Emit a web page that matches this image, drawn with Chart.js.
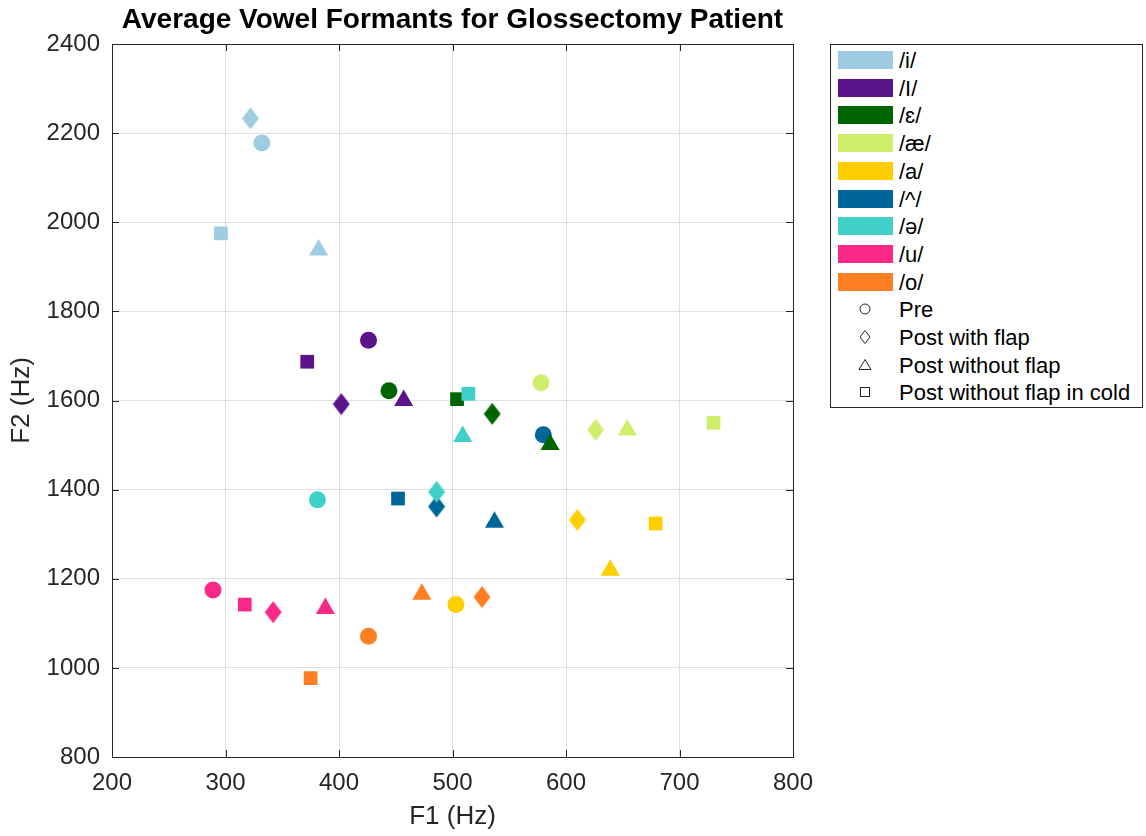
<!DOCTYPE html>
<html>
<head>
<meta charset="utf-8">
<title>Average Vowel Formants for Glossectomy Patient</title>
<script src="https://cdn.jsdelivr.net/npm/chart.js@4/dist/chart.umd.min.js"></script>
<style>
  body { margin: 0; background: #fff; font-family: 'Liberation Sans', Arial, Helvetica, sans-serif; }
  #wrap { position: relative; width: 1146px; height: 836px; }
  #legend { position: absolute; left: 830px; top: 44px; width: 311px; height: 362px;
            border: 1px solid #262626; background: #fff; }
  .row { position: absolute; left: 0; height: 28px; display: flex; align-items: center;
         font-size: 22px; color: #000; white-space: nowrap; }
  .swatch { position: absolute; left: 7px; top: 5px; width: 55px; height: 18px; box-sizing: border-box; }
  .mark { position: absolute; left: 27px; top: 7px; }
  .lbl { position: absolute; left: 68px; top: 2px; }
</style>
</head>
<body>
<div id="wrap">
  <canvas id="myChart" width="1146" height="836"></canvas>
  <div id="legend"></div>
</div>
<script>
var vowels = ['/i/', '/I/', '/ɛ/', '/æ/', '/a/', '/^/', '/ə/', '/u/', '/o/'];
var vowelColors = ['#9ecde1', '#5a1389', '#006400', '#cfee6b', '#ffce00', '#006699', '#41d0c8', '#fa2887', '#ff7f22'];
var conditions = ['Pre', 'Post with flap', 'Post without flap', 'Post without flap in cold'];

// F1 / F2 (Hz) per vowel, in the order of the vowels array
var preF1 = [332, 426, 444, 578, 503, 580, 381, 289, 426];
var preF2 = [2178, 1735, 1622, 1640, 1142, 1523, 1377, 1175, 1071];
var flapF1 = [322, 402, 535, 626, 610, 486, 486, 342, 526];
var flapF2 = [2233, 1592, 1570, 1534, 1332, 1362, 1395, 1125, 1159];
var noFlapF1 = [382, 457, 586, 654, 639, 537, 509, 388, 473];
var noFlapF2 = [1938, 1600, 1501, 1534, 1219, 1327, 1519, 1133, 1165];
var coldF1 = [296, 372, 504, 730, 679, 452, 514, 317, 375];
var coldF2 = [1975, 1687, 1603, 1550, 1324, 1380, 1615, 1142, 977];

var xTicks = [200, 300, 400, 500, 600, 700, 800];
var yTicks = [800, 1000, 1200, 1400, 1600, 1800, 2000, 2200, 2400];

Chart.defaults.font.family = "'Liberation Sans', Arial, Helvetica, sans-serif";
Chart.defaults.color = '#262626';

function toPoints(f1, f2) {
  var pts = [];
  for (var i = 0; i < f1.length; i++) pts.push({x: f1[i], y: f2[i]});
  return pts;
}

// MATLAB style diamond: narrower than tall
function diamond(color) {
  var c = document.createElement('canvas');
  c.width = 18; c.height = 23;
  var g = c.getContext('2d');
  g.fillStyle = color;
  g.beginPath();
  g.moveTo(9, 0.5); g.lineTo(17.5, 11.5); g.lineTo(9, 22.5); g.lineTo(0.5, 11.5);
  g.closePath();
  g.fill();
  return c;
}
var diamonds = vowelColors.map(diamond);

// box around the axes with inward ticks
var frame = {
  id: 'frame',
  afterDraw: function(chart) {
    var ctx = chart.ctx, a = chart.chartArea, x = chart.scales.x, y = chart.scales.y;
    ctx.save();
    ctx.strokeStyle = '#262626';
    ctx.lineWidth = 1;
    ctx.beginPath();
    x.ticks.forEach(function(t) {
      var px = Math.round(x.getPixelForValue(t.value)) + 0.5;
      ctx.moveTo(px, a.bottom); ctx.lineTo(px, a.bottom - 7);
      ctx.moveTo(px, a.top); ctx.lineTo(px, a.top + 7);
    });
    y.ticks.forEach(function(t) {
      var py = Math.round(y.getPixelForValue(t.value)) + 0.5;
      ctx.moveTo(a.left, py); ctx.lineTo(a.left + 7, py);
      ctx.moveTo(a.right, py); ctx.lineTo(a.right - 7, py);
    });
    ctx.stroke();
    ctx.strokeRect(Math.round(a.left) + 0.5, Math.round(a.top) + 0.5, Math.round(a.width), Math.round(a.height));
    ctx.restore();
  }
};

function plain(v) { return String(v); }

var ctx = document.getElementById('myChart');
var myChart = new Chart(ctx, {
  type: 'scatter',
  data: {
    datasets: [
      {
        label: conditions[0],
        data: toPoints(preF1, preF2),
        pointStyle: 'circle',
        pointRadius: 8.5,
        pointBackgroundColor: vowelColors,
        borderWidth: 0,
        order: 4
      },
      {
        label: conditions[1],
        data: toPoints(flapF1, flapF2),
        pointStyle: function(c) { return diamonds[c.dataIndex]; },
        pointRadius: 10,
        pointBackgroundColor: vowelColors,
        borderWidth: 0,
        order: 3
      },
      {
        label: conditions[2],
        data: toPoints(noFlapF1, noFlapF2),
        pointStyle: 'triangle',
        pointRadius: 11,
        pointBackgroundColor: vowelColors,
        borderWidth: 0,
        order: 2
      },
      {
        label: conditions[3],
        data: toPoints(coldF1, coldF2),
        pointStyle: 'rect',
        pointRadius: 9.7,
        pointBackgroundColor: vowelColors,
        borderWidth: 0,
        order: 1
      }
    ]
  },
  options: {
    responsive: false,
    animation: false,
    layout: { padding: { left: 0, top: 0, right: 353, bottom: 0 } },
    plugins: {
      legend: { display: false },
      tooltip: { enabled: false },
      title: {
        display: true,
        fullSize: false,
        text: 'Average Vowel Formants for Glossectomy Patient',
        color: '#000',
        font: { size: 28, weight: 'bold' },
        padding: { top: 3, bottom: 7.4 }
      }
    },
    scales: {
      x: {
        type: 'linear',
        min: xTicks[0],
        max: xTicks[xTicks.length - 1],
        afterBuildTicks: function(s) { s.ticks = xTicks.map(function(v) { return {value: v}; }); },
        afterFit: function(s) { s.height = 79; },
        ticks: { font: { size: 24 }, color: '#262626', padding: 12, callback: plain },
        grid: { color: 'rgba(0,0,0,0.12)', drawTicks: false },
        border: { display: false },
        title: { display: true, text: 'F1 (Hz)', font: { size: 26 }, color: '#262626', padding: { top: 0, bottom: 4 } }
      },
      y: {
        type: 'linear',
        min: yTicks[0],
        max: yTicks[yTicks.length - 1],
        afterBuildTicks: function(s) { s.ticks = yTicks.map(function(v) { return {value: v}; }); },
        afterFit: function(s) { s.width = 112; },
        ticks: { font: { size: 24 }, color: '#262626', padding: 12, callback: plain },
        grid: { color: 'rgba(0,0,0,0.12)', drawTicks: false },
        border: { display: false },
        title: { display: true, text: 'F2 (Hz)', font: { size: 26 }, color: '#262626', padding: { top: 6, bottom: 0 } }
      }
    }
  },
  plugins: [frame]
});

// legend: vowel colour patches, then condition marker shapes
var shapes = {
  'Pre': '<circle cx="7" cy="7" r="5" fill="#fff" stroke="#262626"/>',
  'Post with flap': '<polygon points="7,0.5 12,7 7,13.5 2,7" fill="#fff" stroke="#262626"/>',
  'Post without flap': '<polygon points="7,1.5 13,11.5 1,11.5" fill="#fff" stroke="#262626"/>',
  'Post without flap in cold': '<rect x="2.5" y="2.5" width="9" height="9" fill="#fff" stroke="#262626"/>'
};
var legend = document.getElementById('legend');
var html = '';
var rowStep = 27.7;
vowels.forEach(function(v, i) {
  var top = 1 + i * rowStep;
  html += '<div class="row" style="top:' + top + 'px;width:300px">' +
          '<div class="swatch" style="background:' + vowelColors[i] + '"></div>' +
          '<span class="lbl">' + v + '</span></div>';
});
conditions.forEach(function(c, j) {
  var top = 1 + (vowels.length + j) * rowStep;
  html += '<div class="row" style="top:' + top + 'px;width:300px">' +
          '<svg class="mark" width="14" height="14">' + shapes[c] + '</svg>' +
          '<span class="lbl">' + c + '</span></div>';
});
legend.innerHTML = html;
</script>
</body>
</html>
